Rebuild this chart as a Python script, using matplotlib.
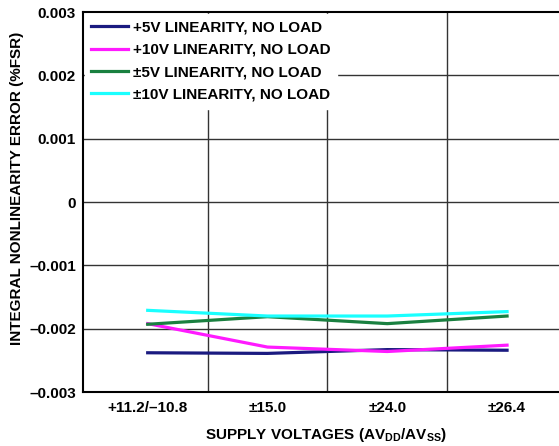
import matplotlib
matplotlib.use("Agg")
import matplotlib.pyplot as plt

plt.rcParams["font.family"] = "Liberation Sans"
plt.rcParams["font.weight"] = "bold"
plt.rcParams["mathtext.default"] = "regular"

supplies = ["+11.2/\u201310.8", "\u00b115.0", "\u00b124.0", "\u00b126.4"]
y_ticks = [0.003, 0.002, 0.001, 0, -0.001, -0.002, -0.003]
y_tick_labels = ["0.003", "0.002", "0.001", "0", "\u20130.001", "\u20130.002", "\u20130.003"]

inl_5v = [-0.00238, -0.00239, -0.00233, -0.00234]
inl_10v = [-0.00192, -0.00229, -0.00236, -0.00226]
inl_pm5v = [-0.00193, -0.00181, -0.00192, -0.00180]
inl_pm10v = [-0.00171, -0.00180, -0.00180, -0.00173]

series = [
    ("+5V LINEARITY, NO LOAD", inl_5v, "#1a1a80"),
    ("+10V LINEARITY, NO LOAD", inl_10v, "#ff1aff"),
    ("\u00b15V LINEARITY, NO LOAD", inl_pm5v, "#1a8040"),
    ("\u00b110V LINEARITY, NO LOAD", inl_pm10v, "#1affff"),
]
FS = 11

fig = plt.figure(figsize=(5.59, 4.46), dpi=100)
ax = fig.add_axes([0.1485, 0.121, 0.87, 0.852])

x = list(range(len(supplies)))
for label, vals, color in series:
    ax.plot(x, vals, color=color, lw=2.3, label=label, zorder=3)

# grid: horizontal at y ticks, vertical between categories
for v in y_ticks[1:-1]:
    ax.axhline(v, color="#333333", lw=1.0, zorder=1)
for i in range(len(supplies) - 1):
    ax.axvline(i + 0.5, color="#333333", lw=1.0, zorder=1)

ax.set_xlim(-0.54, 3.52)
ax.set_ylim(-0.003, 0.003)
ax.set_xticks(x)
ax.set_xticklabels(supplies, fontsize=FS, fontweight="bold")
ax.set_yticks(y_ticks)
ax.set_yticklabels(y_tick_labels, fontsize=FS, fontweight="bold")
ax.tick_params(axis="x", length=0, pad=6.5)
ax.tick_params(axis="y", length=0, pad=5)
for s in ax.spines.values():
    s.set_linewidth(1.5)

ax.set_xlabel("SUPPLY VOLTAGES (AV$_{DD}$/AV$_{SS}$)", fontsize=FS, fontweight="bold", labelpad=8)
ax.set_ylabel("INTEGRAL NONLINEARITY ERROR (%FSR)", fontsize=FS, fontweight="bold", labelpad=5)
ax.yaxis.set_label_coords(-0.122, 0.537)

leg = ax.legend(loc="upper left", frameon=True, fancybox=False,
                prop={"family": "Liberation Sans", "size": FS, "weight": "bold"},
                handlelength=2.4, borderaxespad=0.1, labelspacing=0.55,
                handletextpad=0.3, borderpad=0.45)
leg.get_frame().set_edgecolor("white")
leg.get_frame().set_facecolor("white")
leg.get_frame().set_alpha(1.0)
leg.set_zorder(5)

fig.savefig("out.png", dpi=100)
